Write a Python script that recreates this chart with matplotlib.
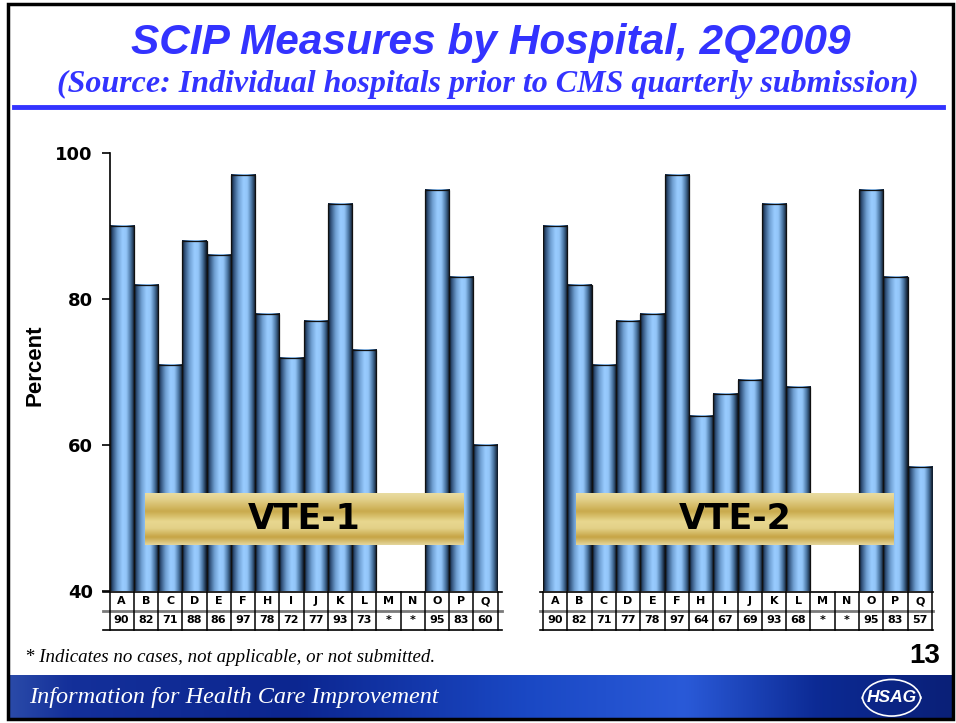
import numpy as np
import matplotlib
matplotlib.use('Agg')
import matplotlib.pyplot as plt
from matplotlib.colors import LinearSegmentedColormap
from matplotlib.patches import Rectangle, Arc
from matplotlib.lines import Line2D
from matplotlib.transforms import blended_transform_factory

# ---------------- data ----------------
hospitals = ['A', 'B', 'C', 'D', 'E', 'F', 'H', 'I', 'J', 'K', 'L', 'M', 'N', 'O', 'P', 'Q']
vte1 = [90, 82, 71, 88, 86, 97, 78, 72, 77, 93, 73, None, None, 95, 83, 60]
vte2 = [90, 82, 71, 77, 78, 97, 64, 67, 69, 93, 68, None, None, 95, 83, 57]
yticks = [40, 60, 80, 100]
panel_names = ['VTE-1', 'VTE-2']
title = 'SCIP Measures by Hospital, 2Q2009'
subtitle = '(Source: Individual hospitals prior to CMS quarterly submission)'
footnote = '* Indicates no cases, not applicable, or not submitted.'
page_no = '13'
footer_text = 'Information for Health Care Improvement'

W, H = 956, 723
fig = plt.figure(figsize=(W / 100, H / 100), dpi=100)
fig.patch.set_facecolor('white')


def fx(p):
    return p / W


def fy(p):
    return 1 - p / H


BLUE = '#3333FF'
bar_cmap = LinearSegmentedColormap.from_list(
    'cyl', [(0, '#0a1424'), (0.1, '#2d4d74'), (0.3, '#6f9fd2'), (0.5, '#99ccff'),
            (0.66, '#93c5f8'), (0.83, '#4a76a3'), (1, '#0a1424')])
gold_cmap = LinearSegmentedColormap.from_list(
    'gold', [(0, '#e9dca2'), (0.12, '#e2d08a'), (0.35, '#c9aa4c'), (0.55, '#e8d890'),
             (0.68, '#e3d188'), (0.85, '#c6a444'), (1, '#e4d69c')])
grad_h = np.linspace(0, 1, 128).reshape(1, -1)
grad_v = np.linspace(0, 1, 128).reshape(-1, 1)

# ---------------- title area ----------------
fig.text(fx(491), fy(43), title, ha='center', va='center', color=BLUE,
         fontsize=30.5, fontweight='bold', fontstyle='italic', family='Liberation Sans')
fig.text(fx(488), fy(84), subtitle, ha='center', va='center', color=BLUE,
         fontsize=23, fontweight='bold', fontstyle='italic', family='Liberation Serif')
fig.add_artist(Line2D([fx(14), fx(943)], [fy(107), fy(107)], color=BLUE, lw=3.5))

# ---------------- panels ----------------
ax_top, ax_bot = 153, 591.5
axes_h_px = ax_bot - ax_top
row_px = 19.3
row_h = row_px / axes_h_px

panels = [
    dict(values=vte1, left=109.5, right=497.5, show_axis=True, tbl=(103, 502), ban=(144.5, 463.5)),
    dict(values=vte2, left=543, right=932, show_axis=False, tbl=(540, 933), ban=(576, 894)),
]

for name, p in zip(panel_names, panels):
    ax = fig.add_axes([fx(p['left']), fy(ax_bot), fx(p['right'] - p['left']), axes_h_px / H])
    ax.set_facecolor('none')
    n = len(hospitals)
    x = np.arange(n)
    for xi, v in zip(x, p['values']):
        if v is None:
            continue
        ax.imshow(grad_h, cmap=bar_cmap, extent=(xi - 0.5, xi + 0.5, yticks[0], v),
                  aspect='auto', zorder=2, interpolation='bicubic')
    heights = [v if v is not None else np.nan for v in p['values']]
    ax.bar(x, heights, width=1.0, facecolor='none', edgecolor='#111111', linewidth=0.9, zorder=3)
    ax.set_xlim(-0.5, n - 0.5)
    ax.set_ylim(yticks[0], yticks[-1])
    for s in ['top', 'right', 'bottom']:
        ax.spines[s].set_visible(False)
    ax.set_xticks([])
    if p['show_axis']:
        ax.spines['left'].set_linewidth(1.2)
        ax.set_yticks(yticks)
        ax.set_yticklabels([str(t) for t in yticks], fontsize=13, fontweight='bold',
                           family='DejaVu Sans')
        ax.tick_params(axis='y', direction='out', length=6, width=1.2, pad=6)
        ax.set_ylabel('Percent', fontsize=16, fontweight='bold', family='Liberation Sans')
        ax.yaxis.set_label_coords((46 - p['left']) / (p['right'] - p['left']),
                                  (ax_bot - 365) / axes_h_px)
    else:
        ax.spines['left'].set_visible(False)
        ax.set_yticks([])

    # data table under the chart
    trans = blended_transform_factory(ax.transData, ax.transAxes)
    tl = (p['tbl'][0] - p['left']) / (p['right'] - p['left'])
    tr = (p['tbl'][1] - p['left']) / (p['right'] - p['left'])
    ax.add_line(Line2D([tl, tr], [0, 0], transform=ax.transAxes, color='black', lw=1.2, clip_on=False))
    ax.add_line(Line2D([tl, tr], [-row_h, -row_h], transform=ax.transAxes, color='#7a7a7a', lw=2.0, clip_on=False))
    ax.add_line(Line2D([tl, tr], [-2 * row_h, -2 * row_h], transform=ax.transAxes, color='black', lw=1.2, clip_on=False))
    for b in np.arange(-0.5, n + 0.5, 1.0):
        ax.add_line(Line2D([b, b], [0, -2 * row_h], transform=trans, color='black', lw=1.1, clip_on=False))
    for xi, h, v in zip(x, hospitals, p['values']):
        ax.text(xi, -0.5 * row_h, h, transform=trans, ha='center', va='center',
                fontsize=8, fontweight='bold', family='DejaVu Sans')
        ax.text(xi, -1.5 * row_h, '*' if v is None else str(v), transform=trans, ha='center',
                va='center', fontsize=8, fontweight='bold', family='DejaVu Sans')

    # gold banner
    b0, b1 = p['ban']
    bax = fig.add_axes([fx(b0), fy(545), fx(b1 - b0), 52 / H])
    bax.imshow(grad_v, cmap=gold_cmap, aspect='auto', extent=(0, 1, 0, 1), interpolation='bicubic')
    bax.set_axis_off()
    bax.text(0.5, 0.5, name, ha='center', va='center', fontsize=25, fontweight='bold',
             family='DejaVu Sans', color='black', transform=bax.transAxes)

# ---------------- footnote / page number ----------------
fig.text(fx(25), fy(657), footnote, ha='left', va='center', fontsize=13.6,
         fontstyle='italic', family='Liberation Serif')
fig.text(fx(940), fy(656), page_no, ha='right', va='center', fontsize=20,
         fontweight='bold', family='Liberation Sans')

# ---------------- footer banner ----------------
foot_cmap = LinearSegmentedColormap.from_list(
    'foot', [(0, '#2a4aa8'), (0.06, '#14309a'), (0.3, '#0c2690'), (0.55, '#1a48c4'),
             (0.72, '#2a5ad8'), (0.86, '#0c2a94'), (1, '#0a2078')])
fax = fig.add_axes([fx(8), fy(718), fx(945), 43 / H])
fimg = np.tile(grad_h, (20, 1))
fax.imshow(fimg, cmap=foot_cmap, aspect='auto', extent=(0, 1, 0, 1), interpolation='bicubic')
fax.set_xlim(0, 1)
fax.set_ylim(0, 1)
fax.set_axis_off()
fax.text(0.022, 0.48, footer_text, ha='left', va='center', fontsize=17.5, color='white',
         fontstyle='italic', family='Liberation Serif', transform=fax.transAxes)
fax.text(0.935, 0.47, 'HSAG', ha='center', va='center', fontsize=12.5, color='white',
         fontstyle='italic', fontweight='bold', family='Liberation Sans', transform=fax.transAxes)
fax.add_patch(Arc((0.935, 0.42), 0.062, 0.95, theta1=35, theta2=150, color='white', lw=1.2,
                  transform=fax.transAxes))
fax.add_patch(Arc((0.935, 0.52), 0.062, 0.95, theta1=215, theta2=330, color='white', lw=1.2,
                  transform=fax.transAxes))

# ---------------- slide frame ----------------
fig.add_artist(Rectangle((fx(8), fy(719)), fx(945), (719 - 4) / H, fill=False,
                         edgecolor='black', lw=2.5, transform=fig.transFigure))

fig.savefig('out.png', dpi=100)
